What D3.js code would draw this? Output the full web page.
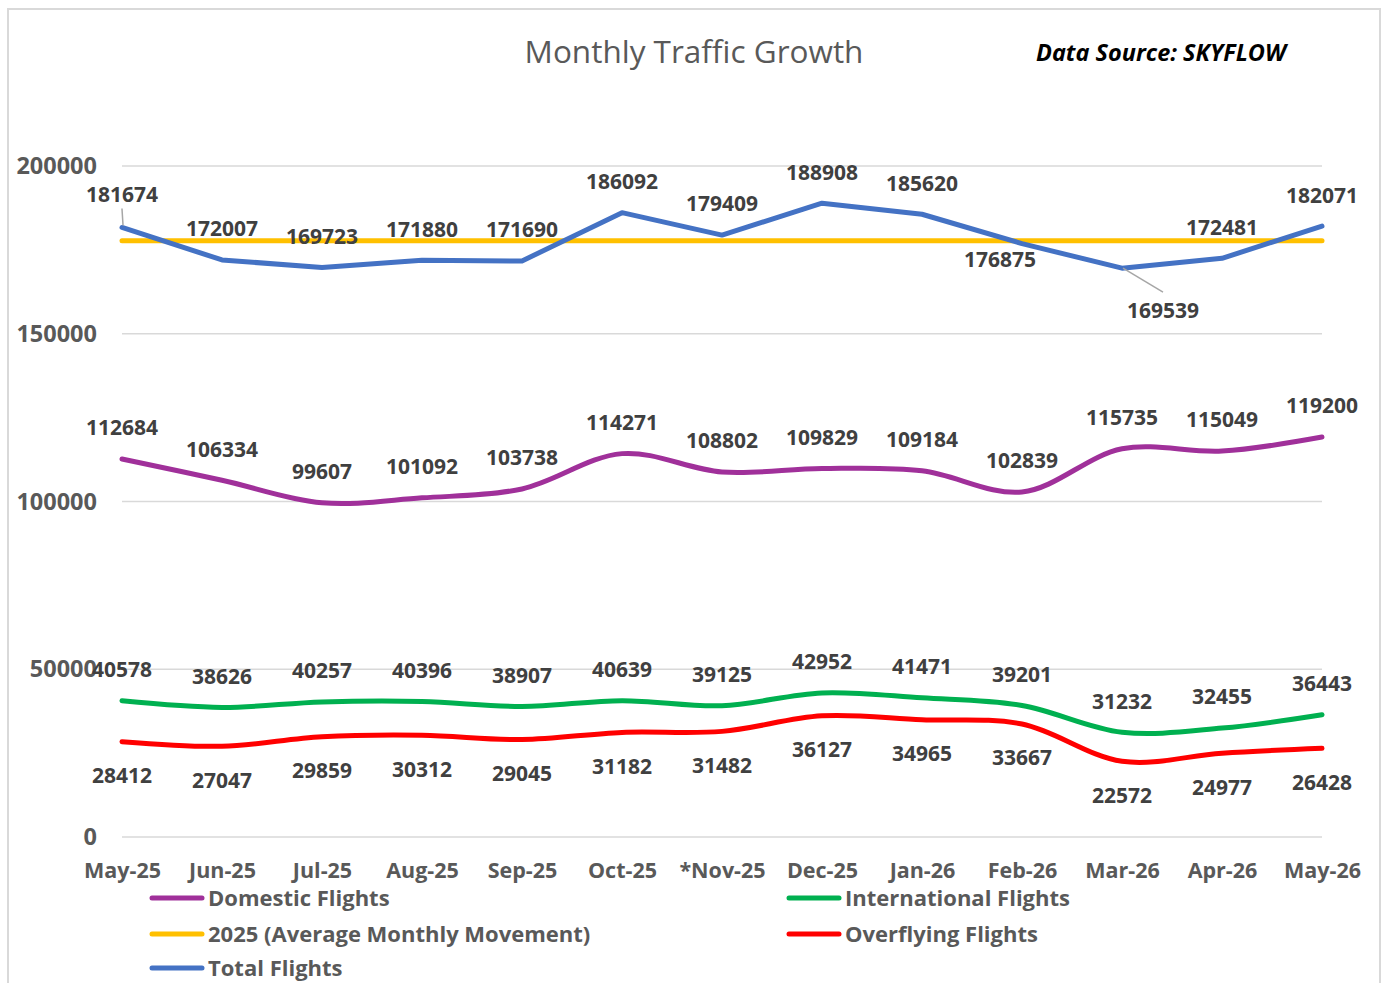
<!DOCTYPE html>
<html>
<head>
<meta charset="utf-8">
<script src="https://cdn.jsdelivr.net/npm/d3@7/dist/d3.min.js"></script>
<style>
  body { margin: 0; background: #fff; }
  svg { display: block; font-family: "Open Sans", "Noto Sans", sans-serif; }
</style>
</head>
<body>
<script>
const months = ['May-25', 'Jun-25', 'Jul-25', 'Aug-25', 'Sep-25', 'Oct-25', '*Nov-25',
  'Dec-25', 'Jan-26', 'Feb-26', 'Mar-26', 'Apr-26', 'May-26'];

const domestic = [112684, 106334, 99607, 101092, 103738, 114271, 108802, 109829, 109184, 102839, 115735, 115049, 119200];
const international = [40578, 38626, 40257, 40396, 38907, 40639, 39125, 42952, 41471, 39201, 31232, 32455, 36443];
const overflying = [28412, 27047, 29859, 30312, 29045, 31182, 31482, 36127, 34965, 33667, 22572, 24977, 26428];
const total = [181674, 172007, 169723, 171880, 171690, 186092, 179409, 188908, 185620, 176875, 169539, 172481, 182071];
const average2025 = 177700;

const yTicks = [0, 50000, 100000, 150000, 200000];

const width = 1385, height = 983;
const margin = {left: 122, right: 63, top: 166, bottom: 146};

const series = [
  {name: 'Domestic Flights', values: domestic, color: '#A0309A', smooth: true, labels: 'above'},
  {name: 'International Flights', values: international, color: '#00B050', smooth: true, labels: 'above'},
  {name: '2025 (Average Monthly Movement)', values: months.map(() => average2025), color: '#FFC000', smooth: false, labels: null},
  {name: 'Overflying Flights', values: overflying, color: '#FF0000', smooth: true, labels: 'below'},
  {name: 'Total Flights', values: total, color: '#4472C4', smooth: false, labels: 'above'}
];

// hand-moved labels on the total line (index -> offset from the point)
const totalLabelMoves = {
  0: {dx: 0, dy: -33, leader: true},
  9: {dx: -22, dy: 16},
  10: {dx: 41, dy: 42, leader: true}
};

const svg = d3.select('body').append('svg').attr('width', width).attr('height', height);

svg.append('rect')
  .attr('x', 8).attr('y', 9).attr('width', 1372).attr('height', height + 20)
  .attr('fill', 'none').attr('stroke', '#D9D9D9').attr('stroke-width', 2);

const x = d3.scalePoint().domain(months).range([margin.left, width - margin.right]);
const y = d3.scaleLinear().domain([0, 200000]).range([height - margin.bottom, margin.top]);

// gridlines
svg.append('g').selectAll('line').data(yTicks).join('line')
  .attr('x1', x.range()[0]).attr('x2', x.range()[1])
  .attr('y1', d => y(d)).attr('y2', d => y(d))
  .attr('stroke', '#D9D9D9').attr('stroke-width', 1.5);

// y axis
const yAxis = svg.append('g')
  .attr('transform', `translate(${margin.left - 25},0)`)
  .call(d3.axisLeft(y).tickValues(yTicks).tickSize(0).tickPadding(0).tickFormat(d3.format('d')));
yAxis.select('.domain').remove();
yAxis.selectAll('text')
  .attr('fill', '#595959').attr('font-size', 23.5).attr('font-weight', 700)
  .attr('font-family', '"Open Sans", sans-serif');

// x axis
const xAxis = svg.append('g')
  .attr('transform', `translate(0,${y(0) + 26})`)
  .call(d3.axisBottom(x).tickSize(0).tickPadding(0));
xAxis.select('.domain').remove();
xAxis.selectAll('text')
  .attr('fill', '#595959').attr('font-size', 21.5).attr('font-weight', 700)
  .attr('font-family', '"Open Sans", sans-serif');

// lines
series.forEach(s => {
  const line = d3.line()
    .x((d, i) => x(months[i]))
    .y(d => y(d))
    .curve(s.smooth ? d3.curveCatmullRom.alpha(0.5) : d3.curveLinear);
  svg.append('path')
    .datum(s.values)
    .attr('d', line)
    .attr('fill', 'none')
    .attr('stroke', s.color)
    .attr('stroke-width', 5)
    .attr('stroke-linecap', 'round')
    .attr('stroke-linejoin', 'round');
});

// data labels
series.filter(s => s.labels).forEach(s => {
  const g = svg.append('g');
  s.values.forEach((v, i) => {
    const px = x(months[i]), py = y(v);
    let dx = 0, dy = s.labels === 'above' ? -31 : 34;
    const move = s.name === 'Total Flights' ? totalLabelMoves[i] : null;
    if (move) { dx = move.dx; dy = move.dy; }
    if (move && move.leader) {
      const ly = dy < 0 ? py + dy + 14 : py + dy - 18;
      g.append('line')
        .attr('x1', px + (dx < 0 ? 0 : 1)).attr('y1', py + (dy < 0 ? -2 : 0))
        .attr('x2', px + dx).attr('y2', ly)
        .attr('stroke', '#A6A6A6').attr('stroke-width', 1.5);
    }
    g.append('text')
      .attr('x', px + dx).attr('y', py + dy)
      .attr('dy', '0.35em')
      .attr('text-anchor', 'middle')
      .attr('fill', '#404040').attr('font-size', 21).attr('font-weight', 700)
      .text(v);
  });
});

// titles
svg.append('text')
  .attr('x', 694).attr('y', 63)
  .attr('text-anchor', 'middle')
  .attr('fill', '#595959').attr('font-size', 31.5)
  .text('Monthly Traffic Growth');

svg.append('text')
  .attr('x', 1161).attr('y', 61)
  .attr('text-anchor', 'middle')
  .attr('fill', '#000').attr('font-size', 23.5).attr('font-weight', 700).attr('font-style', 'italic')
  .text('Data Source: SKYFLOW');

// legend, two columns
const legendCols = [150, 787];
const legendRows = [898, 934, 968];
const legend = svg.append('g').selectAll('g').data(series).join('g')
  .attr('transform', (d, i) => `translate(${legendCols[i % 2]},${legendRows[Math.floor(i / 2)]})`);
legend.append('line')
  .attr('x1', 2).attr('x2', 52)
  .attr('stroke', d => d.color).attr('stroke-width', 5).attr('stroke-linecap', 'round');
legend.append('text')
  .attr('x', 58).attr('dy', '0.35em')
  .attr('fill', '#595959').attr('font-size', 22).attr('font-weight', 700)
  .text(d => d.name);
</script>
</body>
</html>
